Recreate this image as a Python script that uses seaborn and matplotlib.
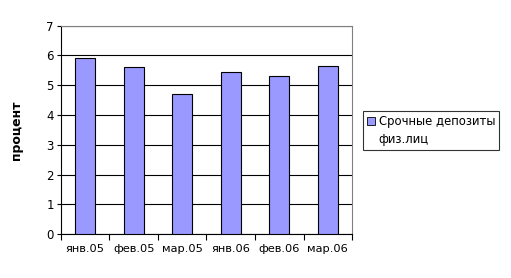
import matplotlib
matplotlib.use("Agg")
import matplotlib.pyplot as plt
import seaborn as sns
import pandas as pd
from matplotlib.patches import Patch

categories = ["янв.05", "фев.05", "мар.05", "янв.06", "фев.06", "мар.06"]
values = [5.9, 5.6, 4.7, 5.45, 5.3, 5.63]
series_lines = ["Срочные депозиты", "физ.лиц"]
y_ticks = [0, 1, 2, 3, 4, 5, 6, 7]

df = pd.DataFrame({"cat": categories, "val": values})

sns.set_theme(style="white")
plt.rcParams['font.family'] = ['DejaVu Sans']
plt.rcParams['text.color'] = 'black'
plt.rcParams['axes.labelcolor'] = 'black'
plt.rcParams['xtick.color'] = 'black'
plt.rcParams['ytick.color'] = 'black'

fig = plt.figure(figsize=(5.11, 2.78), dpi=100)
ax = fig.add_axes([0.119, 0.158, 0.570, 0.750])

sns.barplot(data=df, x="cat", y="val", color="#9999FF", edgecolor="black",
            linewidth=0.8, width=0.41, saturation=1, ax=ax, zorder=3)

ax.set_ylim(0, 7)
ax.set_xlim(-0.5, 5.5)
ax.set_yticks(y_ticks)
ax.set_yticklabels([str(t) for t in y_ticks], fontsize=8.5)
ax.tick_params(axis='x', labelsize=8.2, length=0, pad=7)
ax.tick_params(axis='y', length=3, width=0.8, color='black', left=True, pad=2)
for t in y_ticks:
    ax.axhline(t, color='black', linewidth=0.8, zorder=1)
# x minor ticks between categories
ax.set_xticks([i - 0.5 for i in range(len(categories) + 1)], minor=True)
ax.tick_params(axis='x', which='minor', length=4, width=0.8, color='black', bottom=True)

ax.set_xlabel("")
ax.set_ylabel("процент", fontsize=9, fontweight='bold', labelpad=17, color='black')

for side in ['top', 'right']:
    ax.spines[side].set_color('#808080')
    ax.spines[side].set_linewidth(0.8)
for side in ['left', 'bottom']:
    ax.spines[side].set_color('black')
    ax.spines[side].set_linewidth(0.8)

handles = [Patch(facecolor="#9999FF", edgecolor="black", linewidth=0.6),
           Patch(facecolor="none", edgecolor="none")]
leg = fig.legend(handles, series_lines, loc='upper left',
                 bbox_to_anchor=(363/511, 1 - 111/278), fontsize=8.4,
                 frameon=True, fancybox=False, edgecolor='black',
                 handlelength=0.7, handleheight=0.7, handletextpad=0.3,
                 borderpad=0.35, borderaxespad=0, labelspacing=0.45)
leg.get_frame().set_linewidth(0.8)
for txt in leg.get_texts():
    txt.set_color('black')

fig.savefig("out.png", dpi=100, facecolor='white')
